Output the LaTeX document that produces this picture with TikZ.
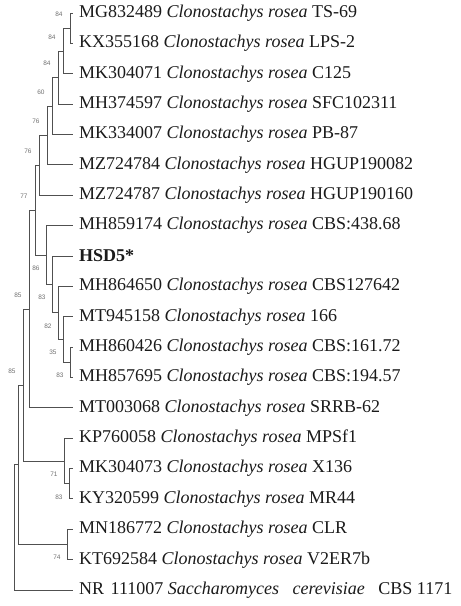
\documentclass[tikz,border=0pt]{standalone}
\usepackage{fontspec}
\setmainfont{Liberation Serif}
\newfontfamily\bootfont{Liberation Sans}
\definecolor{ink}{HTML}{1A1A1A}
\definecolor{branch}{HTML}{505050}
\definecolor{bootgray}{HTML}{707070}
\tikzset{
  taxon/.style={anchor=west, inner xsep=6pt, inner ysep=0pt,
                font=\fontsize{18}{20}\selectfont, text=ink},
  br/.style={draw=branch, line width=0.9pt},
  bval/.style={font=\bootfont\fontsize{6.5}{7}\selectfont, text=bootgray, inner sep=0pt},
  bup/.style={bval, xshift=-11pt, yshift=14pt},
  bdown/.style={bval, xshift=-10pt, yshift=-13pt},
}
\newcommand{\cros}{\textit{Clonostachys rosea}}

\begin{document}
\begin{tikzpicture}[x=1pt, y=-1pt]
\useasboundingbox (0,0) rectangle (461,606);

% --- taxa ---
\node[taxon] (t1)  at (73,13)    {MG832489 \cros{} TS-69};
\node[taxon] (t2)  at (73,43.4)  {KX355168 \cros{} LPS-2};
\node[taxon] (t3)  at (73,73.7)  {MK304071 \cros{} C125};
\node[taxon] (t4)  at (73,104.1) {MH374597 \cros{} SFC102311};
\node[taxon] (t5)  at (73,134.5) {MK334007 \cros{} PB-87};
\node[taxon] (t6)  at (73,164.9) {MZ724784 \cros{} HGUP190082};
\node[taxon] (t7)  at (73,195.2) {MZ724787 \cros{} HGUP190160};
\node[taxon] (t8)  at (73,225.6) {MH859174 \cros{} CBS:438.68};
\node[taxon] (t9)  at (73,256)   {\textbf{HSD5*}};
\node[taxon] (t10) at (73,286.3) {MH864650 \cros{} CBS127642};
\node[taxon] (t11) at (73,316.7) {MT945158 \cros{} 166};
\node[taxon] (t12) at (73,347.1) {MH860426 \cros{} CBS:161.72};
\node[taxon] (t13) at (73,377.4) {MH857695 \cros{} CBS:194.57};
\node[taxon] (t14) at (73,407.8) {MT003068 \cros{} SRRB-62};
\node[taxon] (t15) at (73,438.2) {KP760058 \cros{} MPSf1};
\node[taxon] (t16) at (73,468.6) {MK304073 \cros{} X136};
\node[taxon] (t17) at (73,498.9) {KY320599 \cros{} MR44};
\node[taxon] (t18) at (73,529.3) {MN186772 \cros{} CLR};
\node[taxon] (t19) at (73,559.7) {KT692584 \cros{} V2ER7b};
\node[taxon] (t20) at (73,590)   {NR\hspace{2pt} 111007 \textit{Saccharomyces\hspace{9pt} cerevisiae}\hspace{9pt} CBS 1171};

% --- internal nodes ---
\coordinate (n1) at (70,28.2);
\coordinate (n2) at (63,51);
\coordinate (n3) at (58,77.5);
\coordinate (n4) at (52,106);
\coordinate (n5) at (47,135.5);
\coordinate (n6) at (39,165.3);
\coordinate (l5) at (70,362.3);
\coordinate (l4) at (63,339.5);
\coordinate (l3) at (58,312.9);
\coordinate (l2) at (52,284.5);
\coordinate (l1) at (46,255);
\coordinate (x1) at (35,210.2);
\coordinate (y1) at (29,309);
\coordinate (q1) at (69,483.8);
\coordinate (q2) at (64,461);
\coordinate (z1) at (23,385);
\coordinate (c1) at (67,544.5);
\coordinate (v1) at (18,464.8);
\coordinate (root) at (14,527.4);

% --- upper ladder ---
\draw[br] (n1) |- (t1.west);  \draw[br] (n1) |- (t2.west);
\draw[br] (n2) |- (n1);       \draw[br] (n2) |- (t3.west);
\draw[br] (n3) |- (n2);       \draw[br] (n3) |- (t4.west);
\draw[br] (n4) |- (n3);       \draw[br] (n4) |- (t5.west);
\draw[br] (n5) |- (n4);       \draw[br] (n5) |- (t6.west);
\draw[br] (n6) |- (n5);       \draw[br] (n6) |- (t7.west);

% --- HSD5 ladder ---
\draw[br] (l5) |- (t12.west); \draw[br] (l5) |- (t13.west);
\draw[br] (l4) |- (t11.west); \draw[br] (l4) |- (l5);
\draw[br] (l3) |- (t10.west); \draw[br] (l3) |- (l4);
\draw[br] (l2) |- (t9.west);  \draw[br] (l2) |- (l3);
\draw[br] (l1) |- (t8.west);  \draw[br] (l1) |- (l2);
\draw[br] (x1) |- (n6);       \draw[br] (x1) |- (l1);
\draw[br] (y1) |- (x1);       \draw[br] (y1) |- (t14.west);

% --- lower clades ---
\draw[br] (q1) |- (t16.west); \draw[br] (q1) |- (t17.west);
\draw[br] (q2) |- (t15.west); \draw[br] (q2) |- (q1);
\draw[br] (z1) |- (y1);       \draw[br] (z1) |- (q2);
\draw[br] (c1) |- (t18.west); \draw[br] (c1) |- (t19.west);
\draw[br] (v1) |- (z1);       \draw[br] (v1) |- (c1);
\draw[br] (root) |- (v1);     \draw[br] (root) |- (t20.west);

% --- bootstrap values ---
\node[bup] (b1) at (n1) {84};
\node[bup] (b2) at (n2) {84};
\node[bup] (b3) at (n3) {84};
\node[bup] (b4) at (n4) {60};
\node[bup] (b5) at (n5) {76};
\node[bup] (b6) at (n6) {76};
\node[bup] (b7) at (x1) {77};
\node[bdown] (b8) at (l1) {86};
\node[bdown] (b9) at (l2) {83};
\node[bdown] (b10) at (l3) {82};
\node[bdown] (b11) at (l4) {35};
\node[bdown] (b12) at (l5) {83};
\node[bup] (b13) at (y1) {85};
\node[bup] (b14) at (z1) {85};
\node[bdown] (b15) at (q2) {71};
\node[bdown] (b16) at (q1) {83};
\node[bdown] (b17) at (c1) {74};

\end{tikzpicture}
\end{document}
